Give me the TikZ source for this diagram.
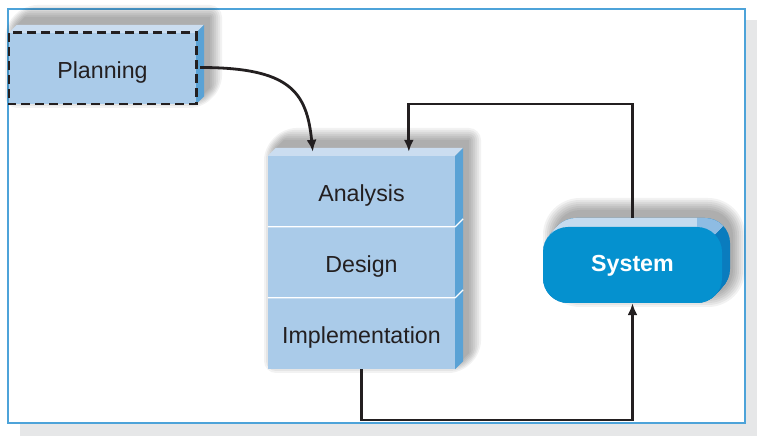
\documentclass[tikz,border=0pt]{standalone}
\usepackage{fontspec}
\setmainfont{Liberation Sans}
\usetikzlibrary{arrows.meta,calc}
\definecolor{frameblue}{HTML}{4DA3D9}
\definecolor{framegray}{HTML}{E6E7E8}
\definecolor{facelight}{HTML}{AACBE9}
\definecolor{toplight}{HTML}{CBDDF0}
\definecolor{sideblue}{HTML}{5AA2D5}
\definecolor{sysfront}{HTML}{0591CF}
\definecolor{sysside}{HTML}{0A7CBE}
\definecolor{systop}{HTML}{C5DBEF}
\definecolor{syscorner}{HTML}{8EBCE3}
\definecolor{linecol}{HTML}{231F20}
% blurred shadow of a bevelled box: x0 y0 x1 y1 (silhouette, already shifted)
\newcommand\myblurbox[4]{%
  \foreach \d in {12,10,...,0}{%
    \fill[black, opacity=0.05, rounded corners=\d pt]
      ({#1-\d},{#2+8}) -- ({#1+8},{#2-\d}) -- ({#3+\d},{#2-\d}) --
      ({#3+\d},{#4-8}) -- ({#3-8},{#4+\d}) -- ({#1-\d},{#4+\d}) -- cycle;
  }%
}
\begin{document}
\begin{tikzpicture}[x=1pt,y=-1pt,
  face/.style={fill=facelight, draw=none, minimum width=187pt, minimum height=71pt,
    inner sep=0pt, text height=22pt, text depth=2pt,
    font=\fontsize{23.2}{27}\selectfont, text=linecol},
  topface/.style={fill=toplight},
  sideface/.style={fill=sideblue},
  conn/.style={draw=linecol, line width=2.8pt, -{Latex[length=12pt,width=10pt]}},
  sysnode/.style={fill=sysfront, rounded corners=25pt, minimum width=179pt, minimum height=76pt,
    inner sep=0pt, text height=15pt, text depth=2pt,
    font=\fontsize{23.2}{27}\selectfont\bfseries, text=white},
]
\useasboundingbox (0,0) rectangle (761,443);
% frame and its shadow
\fill[framegray] (20,20) rectangle (757,436);
\filldraw[fill=white, draw=frameblue, line width=1.6pt] (8,9) rectangle (745,423);

% soft shadows of the boxes
\myblurbox{17}{17}{210}{96}
\myblurbox{276}{140}{469}{361}
\foreach \d in {12,10,...,0}{%
  \fill[black, opacity=0.05, rounded corners={(25+\d)*1pt}]
    ({555-\d},{210-\d}) rectangle ({733+\d},{295+\d});
}

% Planning
\node[face] (plan) at (102.5,68.5) {Planning};
\fill[topface] (plan.north west) -- ++(8,-8) -- ($(plan.north east)+(8,-8)$) -- (plan.north east) -- cycle;
\fill[sideface] (plan.north east) -- ++(8,-8) -- ($(plan.south east)+(8,-8)$) -- (plan.south east) -- cycle;
\draw[linecol, line width=2.6pt, dash pattern=on 9pt off 5pt] (plan.north west) rectangle (plan.south east);

% Analysis / Design / Implementation stack
\node[face] (ana) at (361.5,191.5) {Analysis};
\node[face] (des) at (361.5,262.5) {Design};
\node[face] (imp) at (361.5,333.5) {Implementation};
\fill[topface] (ana.north west) -- ++(8,-8) -- ($(ana.north east)+(8,-8)$) -- (ana.north east) -- cycle;
\fill[sideface] (ana.north east) -- ++(8,-8) -- ($(imp.south east)+(8,-8)$) -- (imp.south east) -- cycle;
\draw[white, line width=1.2pt] (des.north west) -- (des.north east) -- ++(8,-8);
\draw[white, line width=1.2pt] (imp.north west) -- (imp.north east) -- ++(8,-8);

% System
\coordinate (sysNW) at (543,227);
\coordinate (sysSE) at (722,303);
\foreach \t in {0,0.5,...,8}
  \fill[sysside, rounded corners=25pt] ($(sysNW)+(\t,-\t*9/8)$) rectangle ($(sysSE)+(\t,-\t*9/8)$);
\begin{scope}
  \clip (500,150) -- (697,150) -- (697,227) -- (600,227) -- (600,260) -- (500,260) -- cycle;
  \foreach \t in {0,0.5,...,8}
    \fill[systop, rounded corners=25pt] ($(sysNW)+(\t,-\t*9/8)$) rectangle ($(sysSE)+(\t,-\t*9/8)$);
\end{scope}
\begin{scope}
  \clip (697,252) -- (697,150) -- (777,150) -- (777,172) -- cycle;
  \foreach \t in {0,0.5,...,8}
    \fill[syscorner, rounded corners=25pt] ($(sysNW)+(\t,-\t*9/8)$) rectangle ($(sysSE)+(\t,-\t*9/8)$);
\end{scope}
\node[sysnode] (sys) at ($(sysNW)!0.5!(sysSE)$) {System};

% connector helpers
\coordinate (a1) at ($(ana.north west)+(45,-4)$);
\coordinate (a2) at ($(ana.north west)+(141,-4)$);
\coordinate (systopc) at ($(sys.north)+(0,-9)$);
\coordinate (toprow) at (0,104);
\coordinate (botrow) at (0,420);

% connectors
\draw[conn] ($(plan.east)+(4,-1)$) .. controls +(90,0) and +(-6,-60) .. (a1);
\draw[conn] (systopc) |- (a2 |- toprow) -- (a2);
\draw[conn] (imp.south) |- (sys.south |- botrow) -- (sys.south);
\end{tikzpicture}
\end{document}
